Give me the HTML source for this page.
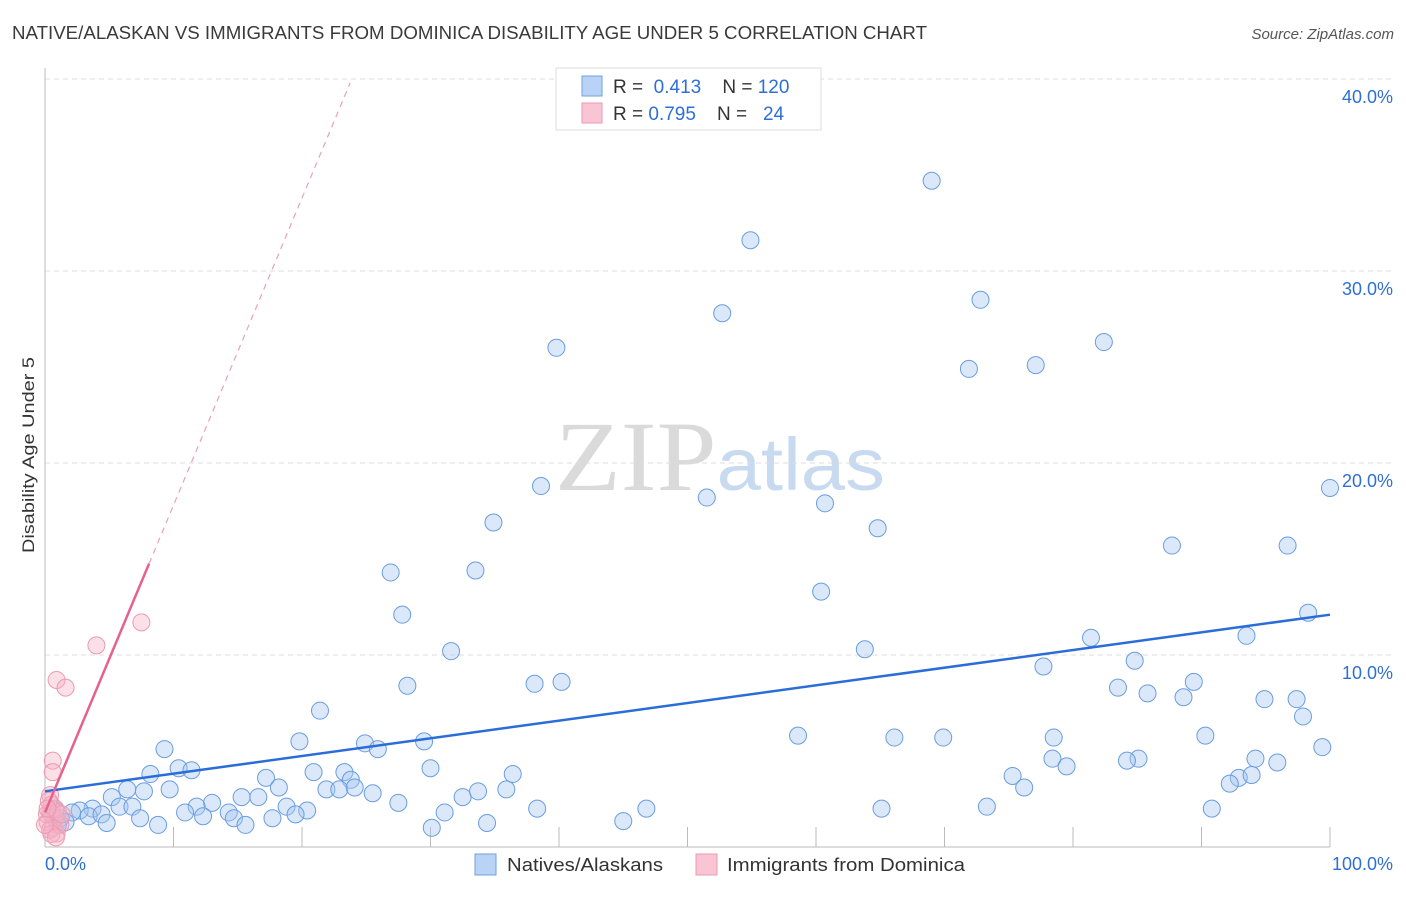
<!DOCTYPE html>
<html><head><meta charset="utf-8"><style>
body{margin:0;background:#fff;font-family:"Liberation Sans",sans-serif;}
svg text{font-family:"Liberation Sans",sans-serif;}
</style></head><body>
<svg id="chart" width="1406" height="892" viewBox="0 0 1406 892" xmlns="http://www.w3.org/2000/svg">
<text x="12" y="39" font-size="18" fill="#3a3a3a" textLength="915" lengthAdjust="spacingAndGlyphs">NATIVE/ALASKAN VS IMMIGRANTS FROM DOMINICA DISABILITY AGE UNDER 5 CORRELATION CHART</text>
<text x="1394" y="39" font-size="15" fill="#555" text-anchor="end" font-style="italic">Source: ZipAtlas.com</text>
<text x="555" y="490" font-size="100" textLength="330" lengthAdjust="spacingAndGlyphs"><tspan fill="#dadada" font-family="Liberation Serif">ZIP</tspan><tspan fill="#c8daf0" font-size="74">atlas</tspan></text>
<text transform="translate(34,455) rotate(-90)" font-size="17" fill="#333" text-anchor="middle" textLength="196" lengthAdjust="spacingAndGlyphs">Disability Age Under 5</text>
<g id="grid"></g><g id="axes"></g><g id="blue"></g><g id="pink"></g><g id="trends"></g>
<g>
<rect x="556" y="68" width="265" height="62" fill="#fff" stroke="#ddd"/>
<rect x="582" y="76" width="20" height="20" fill="#b8d3f5" stroke="#6fa0e0"/>
<rect x="582" y="103" width="20" height="20" fill="#f9c4d3" stroke="#ee98b0"/>
<text x="613" y="93" font-size="19" fill="#333">R = <tspan fill="#2e6fd6">&#160;0.413</tspan>&#160;&#160;&#160;&#160;N = <tspan fill="#2e6fd6">120</tspan></text>
<text x="613" y="120" font-size="19" fill="#333">R = <tspan fill="#2e6fd6">0.795</tspan>&#160;&#160;&#160;&#160;N = <tspan fill="#2e6fd6">&#160;&#160;24</tspan></text>
</g>
<g>
<rect x="475" y="854" width="21" height="21" fill="#b8d3f5" stroke="#6fa0e0"/>
<text x="507" y="871" font-size="18" fill="#333" textLength="156" lengthAdjust="spacingAndGlyphs">Natives/Alaskans</text>
<rect x="696" y="854" width="21" height="21" fill="#f9c4d3" stroke="#ee98b0"/>
<text x="727" y="871" font-size="18" fill="#333" textLength="238" lengthAdjust="spacingAndGlyphs">Immigrants from Dominica</text>
</g>
</svg>
<script>
const yTicks=[10,20,30,40];
const yTickLabels=["10.0%","20.0%","30.0%","40.0%"];
const xTickLabels=["0.0%","100.0%"];
const blueX=[69.0,54.9,72.8,52.7,82.4,39.8,71.9,77.1,100,38.6,51.5,60.7,34.9,64.8,87.7,96.7,26.9,33.5,60.4,27.8,98.3,93.5,81.4,31.6,63.8,84.8,77.7,28.2,38.1,40.2,83.5,85.8,89.4,88.6,94.9,97.4,97.9,21.4,58.6,66.1,69.9,78.5,90.3,19.8,24.9,29.5,25.9,9.3,99.4,94.2,95.9,85.1,84.2,78.4,79.5,8.2,10.4,11.4,17.2,20.9,23.3,23.8,30.0,36.4,75.3,76.2,92.9,93.9,92.2,6.4,9.7,18.2,21.9,22.9,24.1,25.5,5.2,7.7,13.0,15.3,16.6,32.5,33.7,35.9,5.8,6.8,11.8,14.3,18.8,20.4,27.5,31.1,38.3,46.8,65.1,73.3,90.8,10.9,12.3,14.7,17.7,19.5,3.7,2.7,2.1,3.4,4.4,7.4,4.8,8.8,15.6,34.4,45.0,30.1,0.8,1.2,1.6,1.0,0.5];
const blueY=[34.7,31.6,28.5,27.8,26.3,26.0,24.9,25.1,18.7,18.8,18.2,17.9,16.9,16.6,15.7,15.7,14.3,14.4,13.3,12.1,12.2,11.0,10.9,10.2,10.3,9.7,9.4,8.4,8.5,8.6,8.3,8.0,8.6,7.8,7.7,7.7,6.8,7.1,5.8,5.7,5.7,5.7,5.8,5.5,5.4,5.5,5.1,5.1,5.2,4.6,4.4,4.6,4.5,4.6,4.2,3.8,4.1,4.0,3.6,3.9,3.9,3.5,4.1,3.8,3.7,3.1,3.6,3.75,3.3,3.0,3.0,3.1,3.0,3.0,3.1,2.8,2.6,2.9,2.3,2.6,2.6,2.6,2.9,3.0,2.1,2.1,2.1,1.8,2.1,1.9,2.3,1.8,2.0,2.0,2.0,2.1,2.0,1.8,1.6,1.5,1.5,1.7,2.0,1.9,1.8,1.6,1.7,1.5,1.25,1.15,1.15,1.25,1.35,1.0,1.9,1.5,1.3,1.15,1.7];
const pinkX=[7.5,4.0,0.9,1.6,0.6,0.6,0.4,0.5,0.4,0.8,0.2,0.6,0.9,0.4,1.2,0.15,0.8,0.3,1.0,0.5,1.3,0,0.85,0.2];
const pinkY=[11.7,10.5,8.7,8.3,4.5,3.9,2.7,2.2,1.8,1.5,1.3,1.0,0.7,0.9,1.15,1.7,2.0,2.4,1.8,0.68,1.7,1.15,0.5,2.0];
const blueTrend=[2.9,12.1];
const pinkTrend=[1.8,1.6];
const NS="http://www.w3.org/2000/svg";
const X=v=>45+v*12.85, Y=v=>847-v*19.2;
function mk(tag,attrs,parent){const e=document.createElementNS(NS,tag);for(const k in attrs)e.setAttribute(k,attrs[k]);document.getElementById(parent).appendChild(e);return e;}
yTicks.forEach((t,i)=>{
 const g=mk('line',{x1:45,x2:1393,y1:Y(t),y2:Y(t),stroke:'#ddd','stroke-dasharray':'5,4'},'grid');
 
 
 const l=mk('text',{x:1393,y:Y(t)+24,'font-size':18,fill:'#2e6fd6','text-anchor':'end'},'grid');l.textContent=yTickLabels[i];
 
 
});
mk('line',{x1:45,x2:45,y1:68,y2:847,stroke:'#bbb'},'axes');
mk('line',{x1:45,x2:1330,y1:847,y2:847,stroke:'#bbb'},'axes');
for(let i=0;i<=10;i++){const t=mk('line',{x1:X(i*10),x2:X(i*10),y1:827,y2:847,stroke:'#bbb'},'axes');
 
 }
[[0,'start',45],[100,'end',1393]].forEach((a,i)=>{const t=mk('text',{x:a[2],y:870,'font-size':18,fill:'#2e6fd6','text-anchor':a[1]},'axes');t.textContent=xTickLabels[i];
 
 });
blueX.forEach((x,i)=>{const c=mk('circle',{cx:X(x),cy:Y(blueY[i]),r:8.5,fill:'rgba(165,198,240,0.4)',stroke:'#6a9de0','stroke-width':1},'blue');
 
 });
pinkX.forEach((x,i)=>{const c=mk('circle',{cx:X(x),cy:Y(pinkY[i]),r:8.5,fill:'rgba(245,178,198,0.4)',stroke:'#ec9ab2','stroke-width':1},'pink');
 
 });
const bt=mk('line',{x1:X(0),y1:Y(blueTrend[0]),x2:X(100),y2:Y(blueTrend[1]),stroke:'#2a6dd8','stroke-width':2.5},'trends');


const pf=x=>pinkTrend[0]+pinkTrend[1]*x;
const ps=mk('line',{x1:X(0),y1:Y(pf(0)),x2:X(8.1),y2:Y(pf(8.1)),stroke:'#e5628d','stroke-width':2.5},'trends');


const xe=(39.8-pinkTrend[0])/pinkTrend[1];
const pd=mk('line',{x1:X(8.1),y1:Y(pf(8.1)),x2:X(xe),y2:Y(pf(xe)),stroke:'#eaa0b8','stroke-width':1.2,'stroke-dasharray':'6,5'},'trends');


</script>
</body></html>
